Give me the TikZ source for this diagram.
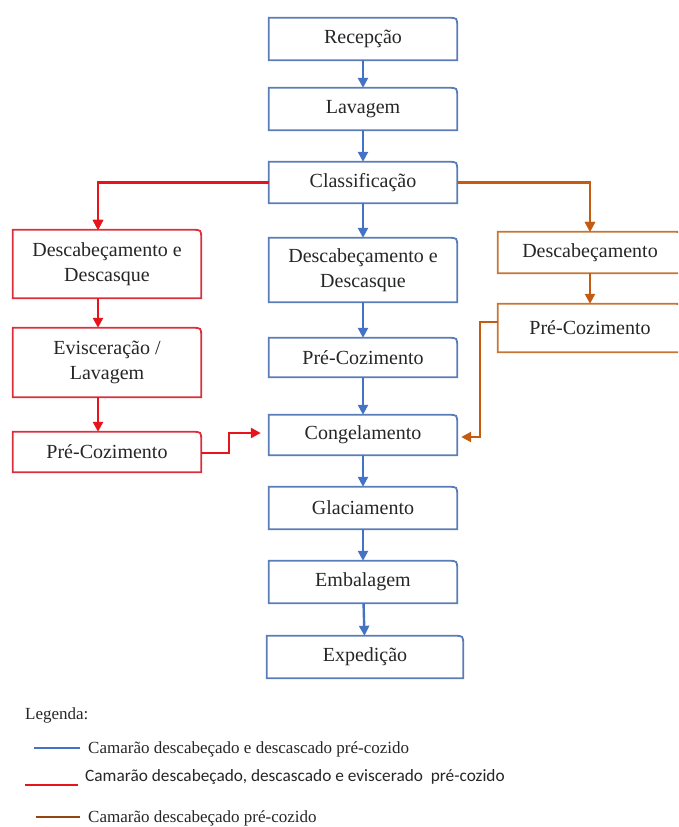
\documentclass[tikz,border=0pt]{standalone}
\usepackage{fontspec}
\setmainfont{Liberation Serif}
\newfontfamily\legsans{Carlito}
\usetikzlibrary{arrows.meta}

\definecolor{flowblue}{HTML}{4472C4}
\definecolor{flowred}{HTML}{E8141C}
\definecolor{floworange}{HTML}{C55A11}
\definecolor{boxblue}{HTML}{5A7DB8}
\definecolor{boxred}{HTML}{DC2F3C}
\definecolor{boxorange}{HTML}{C87533}

% box outline with only the top right corner rounded
\newcommand{\trframe}[2]{%
  \draw[#2, line width=1.8pt] (#1.south west) -- (#1.north west)
    -- ([xshift=-9pt]#1.north east) .. controls (#1.north east) .. ([yshift=-9pt]#1.north east)
    -- (#1.south east) -- cycle;}

\begin{document}
\begin{tikzpicture}[x=1pt, y=-1pt,
  font=\fontsize{20}{25}\selectfont,
  every node/.style={align=center, text=black!85},
  stage/.style={minimum width=188pt, inner sep=0pt},
  legtext/.style={anchor=west, inner sep=0pt, font=\fontsize{17}{20}\selectfont},
  tip/.style={-{Triangle[width=10pt,length=10pt]}},
  blueflow/.style={tip, draw=flowblue, line width=2.4pt},
  redflow/.style={tip, draw=flowred, line width=2.4pt},
  orangeflow/.style={tip, draw=floworange, line width=2.4pt},
]
\useasboundingbox (0,0) rectangle (678,827);
\clip (0,0) rectangle (678,827);

% main line (blue)
\foreach \name/\y/\h/\txt in {rec/39/42/Recepção, lav/109/42/Lavagem, cla/182.5/41/Classificação,
    ddc/270/64/{Descabeçamento e\\Descasque}, prc/357.5/39/Pré-Cozimento, con/435/40/Congelamento,
    gla/508/42/Glaciamento, emb/582/42/Embalagem} {
  \node[stage, minimum height=\h pt] (\name) at (363,\y) {\txt};
  \trframe{\name}{boxblue}
}
\node[stage, minimum width=196pt, minimum height=42pt] (exp) at (365,657) {Expedição};
\trframe{exp}{boxblue}
\foreach \a/\b in {rec/lav, lav/cla, cla/ddc, ddc/prc, prc/con, con/gla, gla/emb, emb/exp}
  \draw[blueflow] (\a) -- (\b);

% left branch (red)
\node[stage, minimum height=68pt] (rdd) at (107,264) {Descabeçamento e\\Descasque};
\node[stage, minimum height=69pt] (rev) at (107,362.5) {Evisceração /\\Lavagem};
\node[stage, minimum height=40pt] (rpc) at (107,452) {Pré-Cozimento};
\foreach \n in {rdd, rev, rpc} \trframe{\n}{boxred}
\draw[redflow] (cla.west) -| ([xshift=-9pt]rdd.north);
\draw[redflow] ([xshift=-9pt]rdd.south) -- ([xshift=-9pt]rev.north);
\draw[redflow] ([xshift=-9pt]rev.south) -- ([xshift=-9pt]rpc.north);
\draw[redflow] ([yshift=-1pt]rpc.east) -- ++(28,0) |- ([xshift=-8pt,yshift=2pt]con.west);

% right branch (orange)
\node[stage, minimum width=184pt, minimum height=41pt] (odc) at (590,252.5) {Descabeçamento};
\node[stage, minimum width=184pt, minimum height=48pt] (opc) at (590,328) {Pré-Cozimento};
\foreach \n in {odc, opc} \trframe{\n}{boxorange}
\draw[orangeflow] (cla.east) -| (odc.north);
\draw[orangeflow] (odc) -- (opc);
\draw[orangeflow] ([yshift=6pt]opc.west) -- ++(-18,0) |- ([xshift=4pt,yshift=-2pt]con.east);

% legend
\node[legtext] (legtitle) at (25,715) {Legenda:};
\node[legtext] (leg1) at (88,749) {Camarão descabeçado e descascado pré-cozido};
\node[legtext, font=\legsans\fontsize{17.3}{20}\selectfont] (leg2) at (85,777) {Camarão descabeçado, descascado e eviscerado\ \ pré-cozido};
\node[legtext] (leg3) at (88,818) {Camarão descabeçado pré-cozido};
\draw[flowblue, line width=1.8pt] ([xshift=-8pt,yshift=1pt]leg1.west) -- ++(-46,0);
\draw[flowred, line width=2.2pt] ([xshift=-7pt,yshift=-8pt]leg2.west) -- ++(-53,0);
\draw[floworange!75!black, line width=1.8pt] ([xshift=-8pt,yshift=1pt]leg3.west) -- ++(-44,0);
\end{tikzpicture}
\end{document}
